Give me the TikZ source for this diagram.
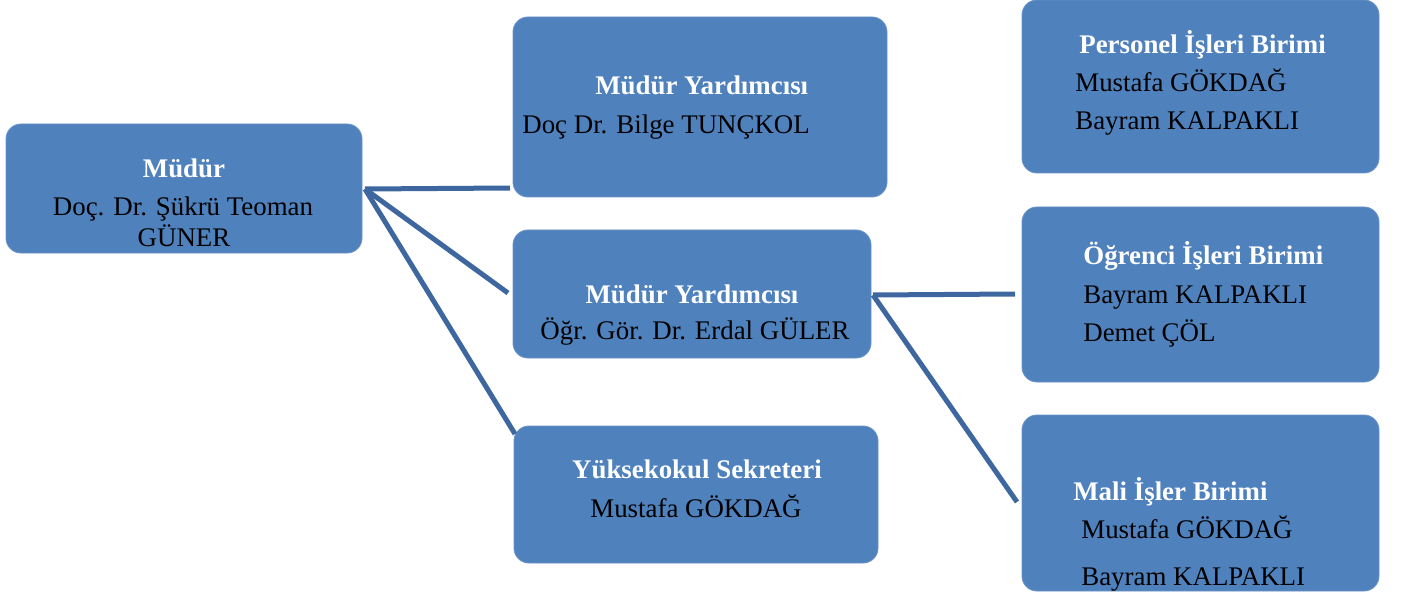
\documentclass[tikz,border=0pt]{standalone}
\usepackage{fontspec}
\setmainfont{Liberation Serif}
\usetikzlibrary{fit}
\definecolor{boxblue}{HTML}{4F81BD}
\definecolor{boxedge}{HTML}{6A93C8}
\definecolor{linkblue}{HTML}{3D679E}
\begin{document}
\begin{tikzpicture}[x=0.02cm,y=-0.02cm,
  unit/.style={fill=boxblue, draw=boxedge, line width=0.5pt, rounded corners=0.3cm, inner sep=0pt},
  head/.style={text=white, font=\fontsize{15.3pt}{18pt}\selectfont\bfseries, inner sep=0pt},
  person/.style={text=black, font=\fontsize{15.3pt}{18pt}\selectfont, inner sep=0pt},
  link/.style={draw=linkblue, line width=0.1cm}]
\useasboundingbox (0,0) rectangle (1401,598);

% boxes
\node[unit, fit={(6,124)(362,253)}] (mudur) {};
\node[unit, fit={(513,17)(887,197)}] (my1) {};
\node[unit, fit={(513,230)(871,358)}] (my2) {};
\node[unit, fit={(514,426)(878,563)}] (ys) {};
\node[unit, fit={(1022,0)(1379,173)}] (pers) {};
\node[unit, fit={(1022,207)(1379,382)}] (ogr) {};
\node[unit, fit={(1022,415)(1379,591)}] (mali) {};

% texts
\node[head, anchor=base] (t1) at (184,178) {Müdür};
\node[person, anchor=base] (t2) at (183,215) {Doç. Dr. Şükrü Teoman};
\node[person, anchor=base] (t3) at (184,247) {GÜNER};

\node[head, anchor=base west] (t4) at (595,95) {Müdür Yardımcısı};
\node[person, anchor=base west] (t5) at (522,133) {Doç Dr. Bilge TUNÇKOL};

\node[head, anchor=base] (t6) at (692,303) {Müdür Yardımcısı};
\node[person, anchor=base] (t7) at (695,339) {Öğr. Gör. Dr. Erdal GÜLER};

\node[head, anchor=base] (t8) at (697,478) {Yüksekokul Sekreteri};
\node[person, anchor=base] (t9) at (696,517) {Mustafa GÖKDAĞ};

\node[head, anchor=base west] (t10) at (1079,54) {Personel İşleri Birimi};
\node[person, anchor=base west] (t11) at (1075,92) {Mustafa GÖKDAĞ};
\node[person, anchor=base west] (t12) at (1075,130) {Bayram KALPAKLI};

\node[head, anchor=base west] (t13) at (1083,264) {Öğrenci İşleri Birimi};
\node[person, anchor=base west] (t14) at (1083,303) {Bayram KALPAKLI};
\node[person, anchor=base west] (t15) at (1083,341) {Demet ÇÖL};

\node[head, anchor=base west] (t16) at (1073,500) {Mali İşler Birimi};
\node[person, anchor=base west] (t17) at (1081,538) {Mustafa GÖKDAĞ};
\node[person, anchor=base west] (t18) at (1081,585) {Bayram KALPAKLI};

% connector ends
\coordinate (m0) at (365,189);
\coordinate (a1) at (510,188);
\coordinate (a2) at (508,293);
\coordinate (a3) at (515,434);
\coordinate (y0) at (873,295);
\coordinate (b2) at (1015,294);
\coordinate (b3) at (1017,502);

\draw[link] (m0) -- (a1);
\draw[link] (m0) -- (a2);
\draw[link] (m0) -- (a3);
\draw[link] (y0) -- (b2);
\draw[link] (y0) -- (b3);
\end{tikzpicture}
\end{document}
